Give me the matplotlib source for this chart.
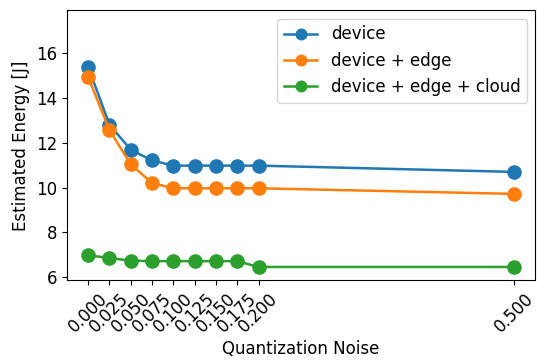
import matplotlib
matplotlib.use("Agg")
import matplotlib.pyplot as plt

noise = [0.0, 0.025, 0.05, 0.075, 0.1, 0.125, 0.15, 0.175, 0.2, 0.5]
device = [15.38, 12.80, 11.69, 11.21, 10.98, 10.98, 10.98, 10.98, 10.98, 10.70]
device_edge = [14.92, 12.56, 11.04, 10.20, 9.97, 9.97, 9.97, 9.97, 9.97, 9.72]
device_edge_cloud = [6.98, 6.86, 6.74, 6.72, 6.72, 6.72, 6.72, 6.72, 6.46, 6.46]

plt.rcParams["font.size"] = 12

fig, ax = plt.subplots(figsize=(5.37, 3.62), dpi=100)
fig.subplots_adjust(left=0.1246, right=0.997, top=0.971, bottom=0.226)

style = dict(marker="o", markersize=9.5, linewidth=1.8)
ax.plot(noise, device, label="device", **style)
ax.plot(noise, device_edge, label="device + edge", **style)
ax.plot(noise, device_edge_cloud, label="device + edge + cloud", **style)

ax.set_xticks(noise)
ax.set_xticklabels(["%.3f" % v for v in noise], rotation=45)
ax.set_ylim(5.87, 17.9)
ax.set_yticks([6, 8, 10, 12, 14, 16])
ax.set_xlabel("Quantization Noise", labelpad=3)
ax.set_ylabel("Estimated Energy [J]")
ax.legend(loc="upper right", markerscale=0.8)

fig.savefig("out.png")
